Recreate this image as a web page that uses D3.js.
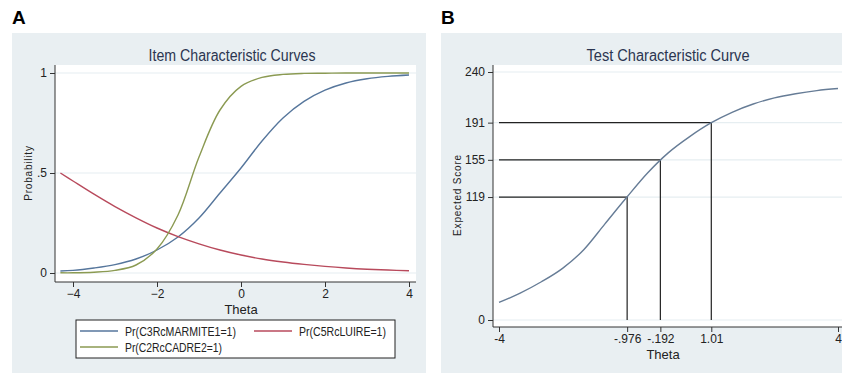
<!DOCTYPE html>
<html>
<head>
<meta charset="utf-8">
<script src="https://cdnjs.cloudflare.com/ajax/libs/d3/7.8.5/d3.min.js"></script>
<style>
  body { margin: 0; background: #fff; }
  svg { display: block; font-family: "Liberation Sans Narrow", "Liberation Sans", Arial, sans-serif; }
  .tick text { fill: #222; }
</style>
</head>
<body>
<svg id="chart" width="842" height="375"></svg>
<script>
// item characteristic curves (panel A)
const thetaA = [-4.3, -4, -3.5, -3, -2.5, -2, -1.5, -1, -0.5, 0, 0.5, 1, 1.5, 2, 2.5, 3, 3.5, 4];
const prMarmite = [0.01, 0.013, 0.025, 0.042, 0.07, 0.115, 0.18, 0.275, 0.40, 0.525, 0.66, 0.775, 0.858, 0.914, 0.95, 0.971, 0.983, 0.99];
const prLuire = [0.5, 0.46, 0.394, 0.332, 0.276, 0.225, 0.182, 0.146, 0.115, 0.09, 0.07, 0.055, 0.043, 0.033, 0.025, 0.019, 0.015, 0.011];
const prCadre = [0.001, 0.001, 0.004, 0.013, 0.04, 0.12, 0.29, 0.58, 0.815, 0.933, 0.978, 0.993, 0.998, 0.999, 1, 1, 1, 1];
const seriesNames = ["Pr(C3RcMARMITE1=1)", "Pr(C5RcLUIRE=1)", "Pr(C2RcCADRE2=1)"];
const xTicksA = [-4, -2, 0, 2, 4];
const yTicksA = [0, 0.5, 1];

// test characteristic curve (panel B)
const thetaB = [-4, -3.5, -3, -2.5, -2, -1.5, -1, -0.5, 0, 0.5, 1, 1.5, 2, 2.5, 3, 3.5, 4];
const expScore = [17, 26, 37, 50, 68, 93, 118, 142, 162, 177.5, 190.7, 201, 209, 215, 219, 222, 224];
const markTheta = [-0.976, -0.192, 1.01];
const markScore = [119, 155, 191];
const xTicksB = [-4, -0.976, -0.192, 1.01, 4];
const xTickLabelsB = ["-4", "-.976", "-.192", "1.01", "4"];
const yTicksB = [0, 119, 155, 191, 240];

const bg = "#e9eff2";
const grid = "#e6eef1";
const colors = ["#56769c", "#b84a5c", "#8b9a52"];

const svg = d3.select("#chart");

// panel letters
svg.append("text").attr("x", 12).attr("y", 24).attr("font-family", "Liberation Sans, Arial, sans-serif")
    .attr("font-weight", "bold").attr("font-size", 19).text("A");
svg.append("text").attr("x", 441).attr("y", 24).attr("font-family", "Liberation Sans, Arial, sans-serif")
    .attr("font-weight", "bold").attr("font-size", 19).text("B");

// ---------- panel A ----------
const gA = svg.append("g");
gA.append("rect").attr("x", 12).attr("y", 33).attr("width", 414).attr("height", 340).attr("fill", bg);
gA.append("rect").attr("x", 55).attr("y", 65).attr("width", 361).attr("height", 217).attr("fill", "#fff");

const xA = d3.scaleLinear().domain([-4, 4]).range([73, 409]);
const yA = d3.scaleLinear().domain([0, 1]).range([273, 73]);

gA.selectAll("line.grid").data(yTicksA).enter().append("line")
    .attr("x1", 55).attr("x2", 416)
    .attr("y1", d => yA(d)).attr("y2", d => yA(d))
    .attr("stroke", grid).attr("stroke-width", 1.2);

gA.append("text").attr("x", 232).attr("y", 61).attr("text-anchor", "middle")
    .attr("font-size", 16).attr("fill", "#2b3550")
    .attr("textLength", 167).attr("lengthAdjust", "spacingAndGlyphs")
    .text("Item Characteristic Curves");

const axisXA = gA.append("g").attr("transform", "translate(0,282)")
    .call(d3.axisBottom(xA).tickValues(xTicksA).tickFormat(d3.format("d")).tickSizeOuter(0).tickSize(5).tickPadding(2));
axisXA.select(".domain").attr("d", "M55,0H416");
const axisYA = gA.append("g").attr("transform", "translate(55,0)")
    .call(d3.axisLeft(yA).tickValues(yTicksA).tickFormat(d => d === 0.5 ? ".5" : d).tickSizeOuter(0).tickSize(5).tickPadding(3));
axisYA.select(".domain").attr("d", "M0,65V282");
[axisXA, axisYA].forEach(a => {
    a.selectAll(".domain, .tick line").attr("stroke", "#333");
    a.selectAll(".tick text").attr("font-size", 12).attr("fill", "#222");
});

gA.append("text").attr("x", 241).attr("y", 314).attr("text-anchor", "middle")
    .attr("font-size", 13).attr("fill", "#222").text("Theta");
gA.append("text").attr("transform", "translate(32,173) rotate(-90)").attr("text-anchor", "middle")
    .attr("font-size", 10).attr("letter-spacing", 0.8).attr("fill", "#222").text("Probability");

const lineA = d3.line().x((d, i) => xA(thetaA[i])).y(d => yA(d)).curve(d3.curveCatmullRom);
[prMarmite, prLuire, prCadre].forEach((s, k) => {
    gA.append("path").datum(s).attr("d", lineA)
        .attr("fill", "none").attr("stroke", colors[k]).attr("stroke-width", 1.4);
});

// legend
const leg = gA.append("g");
leg.append("rect").attr("x", 76).attr("y", 320).attr("width", 319).attr("height", 38)
    .attr("fill", "#fff").attr("stroke", "#222").attr("stroke-width", 1);
const legPos = [[80, 331, 111], [254, 331, 87], [80, 347, 97]];
seriesNames.forEach((n, k) => {
    const [lx, ly, tw] = legPos[k];
    leg.append("line").attr("x1", lx).attr("x2", lx + 38).attr("y1", ly).attr("y2", ly)
        .attr("stroke", colors[k]).attr("stroke-width", 1.4);
    leg.append("text").attr("x", lx + 45).attr("y", ly + 5).attr("font-size", 13).attr("fill", "#222")
        .attr("textLength", tw).attr("lengthAdjust", "spacingAndGlyphs").text(n);
});

// ---------- panel B ----------
const gB = svg.append("g");
gB.append("rect").attr("x", 441).attr("y", 33).attr("width", 401).attr("height", 340).attr("fill", bg);
gB.append("rect").attr("x", 493).attr("y", 65).attr("width", 349).attr("height", 262).attr("fill", "#fff");

const xB = d3.scaleLinear().domain([-4, 4]).range([499, 838]);
const yB = d3.scaleLinear().domain([0, 240]).range([320, 72]);

gB.selectAll("line.grid").data(yTicksB).enter().append("line")
    .attr("x1", 493).attr("x2", 842)
    .attr("y1", d => yB(d)).attr("y2", d => yB(d))
    .attr("stroke", grid).attr("stroke-width", 1.2);

gB.append("text").attr("x", 668).attr("y", 61).attr("text-anchor", "middle")
    .attr("font-size", 16).attr("fill", "#2b3550")
    .attr("textLength", 163).attr("lengthAdjust", "spacingAndGlyphs")
    .text("Test Characteristic Curve");

// reference lines
markTheta.forEach((t, i) => {
    gB.append("line").attr("x1", xB(-4)).attr("x2", xB(t))
        .attr("y1", yB(markScore[i])).attr("y2", yB(markScore[i]))
        .attr("stroke", "#222").attr("stroke-width", 1.2);
    gB.append("line").attr("x1", xB(t)).attr("x2", xB(t))
        .attr("y1", yB(markScore[i])).attr("y2", yB(0))
        .attr("stroke", "#222").attr("stroke-width", 1.2);
});

const lineB = d3.line().x((d, i) => xB(thetaB[i])).y(d => yB(d)).curve(d3.curveMonotoneX);
gB.append("path").datum(expScore).attr("d", lineB)
    .attr("fill", "none").attr("stroke", "#667c96").attr("stroke-width", 1.4);

const axisXB = gB.append("g").attr("transform", "translate(0,327)")
    .call(d3.axisBottom(xB).tickValues(xTicksB).tickFormat((d, i) => xTickLabelsB[i]).tickSizeOuter(0).tickSize(5).tickPadding(2));
axisXB.select(".domain").attr("d", "M493,0H842");
const axisYB = gB.append("g").attr("transform", "translate(493,0)")
    .call(d3.axisLeft(yB).tickValues(yTicksB).tickFormat(d3.format("d")).tickSizeOuter(0).tickSize(5).tickPadding(3));
axisYB.select(".domain").attr("d", "M0,65V327");
[axisXB, axisYB].forEach(a => {
    a.selectAll(".domain, .tick line").attr("stroke", "#333");
    a.selectAll(".tick text").attr("font-size", 12).attr("fill", "#222");
});

gB.append("text").attr("x", 663).attr("y", 359).attr("text-anchor", "middle")
    .attr("font-size", 13).attr("fill", "#222").text("Theta");
gB.append("text").attr("transform", "translate(461,195) rotate(-90)").attr("text-anchor", "middle")
    .attr("font-size", 10).attr("letter-spacing", 0.8).attr("fill", "#222").text("Expected Score");
</script>
</body>
</html>
